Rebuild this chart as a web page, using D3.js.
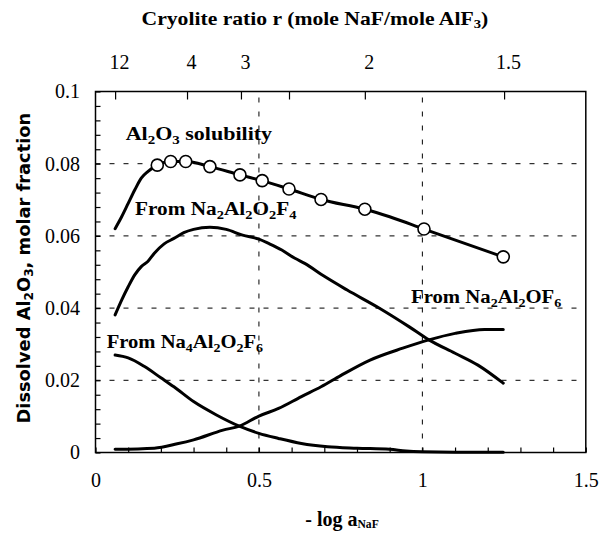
<!DOCTYPE html>
<html><head><meta charset="utf-8">
<script src="https://cdn.jsdelivr.net/npm/d3@7"></script>
<style>body{margin:0;background:#fff} svg{display:block}</style>
</head><body><svg id="c" width="614" height="538"></svg>
<script>
// ---- data ----
const solLineX = [0.06,0.08,0.10,0.12,0.14,0.16,0.189,0.23,0.276,0.35,0.442,0.51,0.592,0.69,0.824,0.90,1.005,1.2475];
const solLineY = [0.0620,0.0653,0.0690,0.0727,0.0760,0.0778,0.0796,0.0806,0.0806,0.0792,0.0769,0.0753,0.0730,0.0701,0.0674,0.0653,0.0619,0.0542];
const solPtsX = [0.189,0.230,0.276,0.350,0.442,0.510,0.592,0.690,0.824,1.005,1.2475];
const solPtsY = [0.0796,0.0806,0.0806,0.0792,0.0769,0.0753,0.0730,0.0701,0.0674,0.0619,0.0542];
const f4X = [0.06,0.08,0.10,0.12,0.14,0.16,0.18,0.21,0.24,0.27,0.30,0.35,0.40,0.45,0.50,0.53,0.57,0.61,0.64,0.70,0.77,0.87,0.96,1.02,1.10,1.17,1.2475];
const f4Y = [0.0381,0.0422,0.0459,0.0492,0.0515,0.0529,0.0552,0.0578,0.0593,0.0609,0.0618,0.0624,0.0618,0.0602,0.0591,0.0579,0.0561,0.0538,0.0524,0.0488,0.0450,0.0399,0.0348,0.0312,0.0275,0.0242,0.0192];
const of6X = [0.06,0.18,0.25,0.30,0.39,0.44,0.50,0.56,0.63,0.69,0.75,0.84,0.94,1.02,1.10,1.19,1.2475];
const of6Y = [0.0009,0.0012,0.0024,0.0035,0.0062,0.0073,0.0101,0.0122,0.0155,0.0182,0.0213,0.0256,0.0289,0.0312,0.0330,0.0341,0.0341];
const na4X = [0.06,0.10,0.15,0.20,0.24,0.30,0.37,0.44,0.50,0.56,0.63,0.71,0.80,0.90,0.95,1.0,1.1,1.2475];
const na4Y = [0.0270,0.0262,0.0238,0.0207,0.0182,0.0141,0.0104,0.0073,0.0053,0.0039,0.0025,0.0016,0.0012,0.0009,0.0004,0.0002,0.0001,0.0001];
const xTickLabels = [0, 0.5, 1, 1.5];
const yTickLabels = [0, 0.02, 0.04, 0.06, 0.08, 0.1];
const topLabels = ["12", "4", "3", "", "2", "1.5"];
const topTickPos = [0.06, 0.28, 0.445, 0.592, 0.824, 1.25];

// ---- layout ----
const svg = d3.select("#c");
const x = d3.scaleLinear().domain([0, 1.5]).range([95.5, 585.8]);
const y = d3.scaleLinear().domain([0, 0.1]).range([452.5, 91.5]);
const serif = "'Liberation Serif','Times New Roman',serif";

// gridlines
const grid = svg.append("g").attr("stroke", "#000").attr("stroke-width", 1).attr("stroke-dasharray", "5,9");
grid.selectAll("line.h").data([0.02, 0.04, 0.06, 0.08]).join("line")
  .attr("x1", x(0)).attr("x2", x(1.5)).attr("y1", d => y(d)).attr("y2", d => y(d));
grid.selectAll("line.v").data([0.5, 1]).join("line")
  .attr("y1", y(0)).attr("y2", y(0.1)).attr("x1", d => x(d)).attr("x2", d => x(d));

function styleAxis(g, size) {
  g.select(".domain").remove();
  g.selectAll("line").attr("stroke", "#000").attr("stroke-width", 1.2);
  g.selectAll("text").attr("font-family", serif).attr("font-size", size).attr("fill", "#000");
}
svg.append("g").attr("transform", `translate(0,${y(0)})`)
  .call(d3.axisBottom(x).tickValues(d3.range(0, 16).map(i => i / 10)).tickSize(-5).tickFormat(""))
  .call(g => styleAxis(g, 20));
svg.append("g").attr("transform", `translate(0,${y(0)})`)
  .call(d3.axisBottom(x).tickValues(xTickLabels).tickSize(0).tickPadding(20).tickFormat(d3.format("~g")))
  .call(g => styleAxis(g, 20));
svg.append("g").attr("transform", `translate(${x(0)},0)`)
  .call(d3.axisLeft(y).tickValues(d3.range(0, 26).map(i => i * 0.004)).tickSize(-5).tickFormat(""))
  .call(g => styleAxis(g, 20));
svg.append("g").attr("transform", `translate(${x(0)},0)`)
  .call(d3.axisLeft(y).tickValues(yTickLabels).tickSize(0).tickPadding(15.5).tickFormat(d3.format("~g")))
  .call(g => styleAxis(g, 20));
svg.append("g").attr("transform", `translate(0,${y(0.1)})`)
  .call(d3.axisTop(x).tickValues(topTickPos).tickSize(-8).tickPadding(23).tickFormat((d, i) => topLabels[i]))
  .call(g => styleAxis(g, 20))
  .call(g => g.selectAll("text").attr("dx", 4));

svg.append("rect").attr("x", x(0)).attr("y", y(0.1)).attr("width", x(1.5) - x(0)).attr("height", y(0) - y(0.1))
  .attr("fill", "none").attr("stroke", "#000").attr("stroke-width", 1.5);

// curves
const line = d3.line().x(d => x(d[0])).y(d => y(d[1])).curve(d3.curveMonotoneX);
const zip = (a, b) => a.map((v, i) => [v, b[i]]);
[[solLineX, solLineY], [f4X, f4Y], [of6X, of6Y], [na4X, na4Y]].forEach(([xs, ys]) => {
  svg.append("path").attr("d", line(zip(xs, ys))).attr("fill", "none").attr("stroke", "#000")
    .attr("stroke-width", 3).attr("stroke-linejoin", "round").attr("stroke-linecap", "round");
});
svg.append("g").selectAll("circle").data(zip(solPtsX, solPtsY)).join("circle")
  .attr("cx", d => x(d[0])).attr("cy", d => y(d[1])).attr("r", 6)
  .attr("fill", "#fff").attr("stroke", "#000").attr("stroke-width", 1.6);

function rich(parts, opt) {
  const t = svg.append("text").attr("font-family", opt.family || serif).attr("font-weight", "bold")
    .attr("font-size", opt.size).attr("fill", "#000");
  let sub = false;
  parts.forEach(([s, isSub]) => {
    const ts = t.append("tspan").text(s);
    if (isSub) { ts.attr("font-size", opt.size * (opt.subScale || 0.68)); if (!sub) ts.attr("dy", opt.subDy); sub = true; }
    else { if (sub) ts.attr("dy", -opt.subDy); sub = false; }
  });
  const w = t.node().getBBox().width;
  const sx = opt.width ? opt.width / w : 1;
  let tr;
  if (opt.rotate) tr = `translate(${opt.x},${opt.y}) rotate(-90) scale(${sx},1) translate(${-w / 2},0)`;
  else if (opt.center) tr = `translate(${opt.x},${opt.y}) scale(${sx},1) translate(${-w / 2},0)`;
  else tr = `translate(${opt.x},${opt.y}) scale(${sx},1)`;
  t.attr("transform", tr);
  return t;
}

rich([["Al", 0], ["2", 1], ["O", 0], ["3", 1], [" solubility", 0]], {x: 125.7, y: 140, size: 19, subDy: 4, width: 147});
rich([["From Na", 0], ["2", 1], ["Al", 0], ["2", 1], ["O", 0], ["2", 1], ["F", 0], ["4", 1]], {x: 135, y: 215, size: 19, subDy: 4, width: 162});
rich([["From Na", 0], ["4", 1], ["Al", 0], ["2", 1], ["O", 0], ["2", 1], ["F", 0], ["6", 1]], {x: 106.7, y: 347.7, size: 19, subDy: 4, width: 157});
rich([["From Na", 0], ["2", 1], ["Al", 0], ["2", 1], ["OF", 0], ["6", 1]], {x: 411, y: 303.3, size: 19, subDy: 4, width: 151});
rich([["Cryolite ratio r (mole NaF/mole AlF", 0], ["3", 1], [")", 0]], {x: 315, y: 25, size: 18, subDy: 3, width: 347, center: true});
rich([["- log a", 0], ["NaF", 1]], {x: 342, y: 526, size: 20, subDy: 2, subScale: 0.58, center: true});
rich([["Dissolved Al", 0], ["2", 1], ["O", 0], ["3", 1], [", molar fraction", 0]],
  {x: 30, y: 268, size: 17.5, subDy: 3, width: 311, rotate: true, family: "'DejaVu Sans','Liberation Sans',sans-serif"});
</script></body></html>
